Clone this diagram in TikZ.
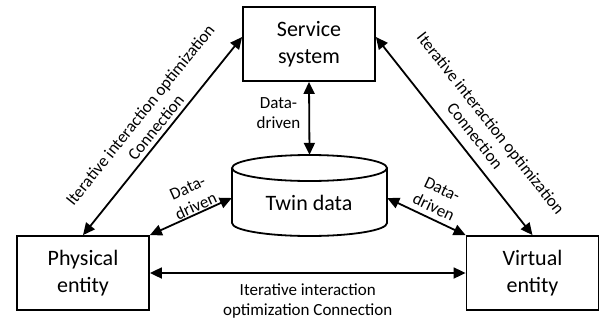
\documentclass[tikz,border=0pt]{standalone}
\usepackage{fontspec}
\setmainfont{Carlito}
\usetikzlibrary{arrows.meta}

\tikzset{
  entity/.style={draw, line width=1.8pt, minimum width=132pt, minimum height=74pt,
    align=center, font=\fontsize{22}{27}\selectfont, inner sep=0pt},
  link/.style={line width=1.8pt, {Triangle[length=12pt,width=11pt]}-{Triangle[length=12pt,width=11pt]}},
  lbl/.style={font=\fontsize{17}{20}\selectfont, align=center, inner sep=0pt},
}

\begin{document}
\begin{tikzpicture}[x=1pt, y=-1pt]
  \useasboundingbox (0,0) rectangle (600,335);

  % the three entities
  \node[entity] (serv) at (309,44)  {Service\\system};
  \node[entity] (phys) at (83,273)  {Physical\\entity};
  \node[entity] (virt) at (532.5,273) {Virtual\\entity};

  % twin data store (cylinder)
  \node[minimum width=155pt, minimum height=81pt, inner sep=0pt] (twin) at (309.5,195.5) {};
  \draw[line width=1.8pt] (309.5,168) ellipse [x radius=77.5pt, y radius=13pt];
  \draw[line width=1.8pt] (232,168) -- (232,223)
       arc [start angle=180, end angle=360, x radius=77.5pt, y radius=13pt]
       -- (387,168);
  \node[font=\fontsize{22}{27}\selectfont] (twintext) at (309,203) {Twin data};

  % connections
  \draw[link] (phys.north) -- ([yshift=7pt]serv.west)
    node[lbl, pos=0.51, sloped, above=4pt] {Iterative interaction optimization\\Connection};
  \draw[link] ([yshift=7pt]serv.east) -- (virt.north)
    node[lbl, pos=0.55, sloped, above=10pt] {Iterative interaction optimization\\Connection};
  \draw[link] (phys.east) -- (virt.west)
    node[lbl, midway, below=10pt] {Iterative interaction\\optimization Connection};

  \draw[link] (serv.south) -- (twin.north)
    node[lbl, pos=0.43, left=8pt] {Data-\\driven};
  \draw[link] (phys.north east) -- ([yshift=-2.5pt]twin.west)
    node[lbl, pos=0.6, sloped, above=1pt] {Data-\\driven};
  \draw[link] ([yshift=-2.5pt]twin.east) -- (virt.north west)
    node[lbl, pos=0.53, sloped, above=5pt] {Data-\\driven};
\end{tikzpicture}
\end{document}
